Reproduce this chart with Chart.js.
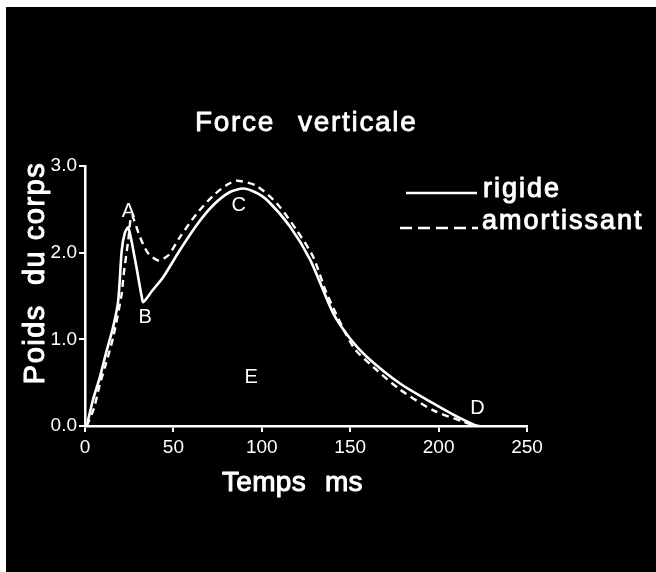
<!DOCTYPE html>
<html>
<head>
<meta charset="utf-8">
<script src="https://cdn.jsdelivr.net/npm/chart.js@4/dist/chart.umd.min.js"></script>
<style>
html,body{margin:0;padding:0;background:#fff;}
#wrap{position:absolute;left:0;top:0;width:656px;height:572px;}
</style>
</head>
<body>
<div id="wrap"><canvas id="c" width="656" height="572"></canvas></div>
<script>
// ---- data ----
const xTicks = [0, 50, 100, 150, 200, 250];
const yTicks = [0.0, 1.0, 2.0, 3.0];
const rigideT = [1, 4.5, 8.5, 12, 16.0, 18.8, 20.8, 22.6, 24.5, 28.3, 32.1, 33.0, 38, 44.3, 53.7, 63.2, 72.6, 82.0, 89.5, 96, 102.8, 116, 127.3, 140.4, 149.9, 159.3, 178.2, 197, 210.2, 220.6, 223];
const rigideF = [0, 0.30, 0.57, 0.85, 1.15, 1.45, 2.03, 2.23, 2.29, 1.92, 1.49, 1.43, 1.56, 1.72, 2.03, 2.32, 2.55, 2.70, 2.74, 2.70, 2.61, 2.30, 1.92, 1.30, 1.01, 0.80, 0.49, 0.26, 0.11, 0.01, 0];
const amortT = [1, 5, 8.5, 11.3, 16.0, 20.8, 21.7, 24.5, 26.4, 31.1, 35.8, 41.5, 47.1, 53.7, 63.2, 72.6, 80.1, 86, 97.1, 108.4, 119.7, 129.1, 136.7, 151.8, 163.1, 178.2, 197, 214, 220.6];
const amortF = [0, 0.2, 0.49, 0.68, 1.03, 1.53, 1.72, 2.15, 2.43, 2.18, 1.99, 1.91, 1.97, 2.18, 2.45, 2.66, 2.78, 2.83, 2.77, 2.57, 2.26, 1.95, 1.53, 0.91, 0.68, 0.42, 0.18, 0.05, 0.0];
const seriesNames = ['rigide', 'amortissant'];
const pointLabels = [
  {t: 'A', x: 24.5, y: 2.48},
  {t: 'B', x: 34, y: 1.25},
  {t: 'C', x: 87, y: 2.55},
  {t: 'D', x: 222, y: 0.2},
  {t: 'E', x: 94, y: 0.56}
];

const toXY = (ts, fs) => ts.map((t, i) => ({x: t, y: fs[i]}));
const FONT = '"Liberation Sans", Arial, Helvetica, sans-serif';

function boldText(ctx, s, x, y, w) {
  ctx.lineWidth = w;
  ctx.strokeText(s, x, y);
  ctx.fillText(s, x, y);
}

const textPlugin = {
  id: 'textPlugin',
  beforeDraw(chart) {
    const ctx = chart.ctx;
    ctx.save();
    ctx.fillStyle = '#fff';
    ctx.fillRect(0, 0, 656, 572);
    ctx.fillStyle = '#000';
    ctx.fillRect(6, 7, 650, 565);
    ctx.restore();
  },
  afterDraw(chart) {
    const ctx = chart.ctx;
    const xs = chart.scales.x, ys = chart.scales.y;
    ctx.save();
    ctx.fillStyle = '#fff';
    ctx.strokeStyle = '#fff';
    ctx.lineJoin = 'round';
    // title
    ctx.font = '28px ' + FONT;
    ctx.letterSpacing = '1.7px';
    ctx.textAlign = 'left';
    ctx.textBaseline = 'alphabetic';
    boldText(ctx, 'Force', 195, 131, 0.8);
    boldText(ctx, 'verticale', 298, 131, 0.8);
    // x title
    ctx.letterSpacing = '0.3px';
    boldText(ctx, 'Temps', 222, 491, 1);
    boldText(ctx, 'ms', 325, 491, 1);
    // y title
    ctx.save();
    ctx.translate(44, 273);
    ctx.rotate(-Math.PI / 2);
    ctx.textAlign = 'center';
    ctx.font = '29px ' + FONT;
    ctx.letterSpacing = '1.5px';
    boldText(ctx, 'Poids  du corps', 0, 0, 1);
    ctx.restore();
    // legend
    ctx.lineWidth = 2.5;
    ctx.setLineDash([]);
    ctx.beginPath(); ctx.moveTo(406, 193); ctx.lineTo(477, 193); ctx.stroke();
    ctx.setLineDash([12, 6]);
    ctx.beginPath(); ctx.moveTo(400, 228); ctx.lineTo(478, 228); ctx.stroke();
    ctx.setLineDash([]);
    ctx.font = '27px ' + FONT;
    ctx.letterSpacing = '2px';
    boldText(ctx, seriesNames[0], 483, 197, 1);
    boldText(ctx, seriesNames[1], 482, 229, 1);
    // point letters
    ctx.font = '20px ' + FONT;
    ctx.letterSpacing = '0px';
    ctx.textAlign = 'center';
    ctx.textBaseline = 'middle';
    pointLabels.forEach(p => ctx.fillText(p.t, xs.getPixelForValue(p.x), ys.getPixelForValue(p.y)));
    ctx.restore();
  }
};

new Chart(document.getElementById('c'), {
  type: 'line',
  data: {
    datasets: [
      {label: seriesNames[0], data: toXY(rigideT, rigideF), borderColor: '#fff', borderWidth: 2.6, pointRadius: 0, tension: 0.25, fill: false, clip: false},
      {label: seriesNames[1], data: toXY(amortT, amortF), borderColor: '#fff', borderWidth: 2.4, borderDash: [7, 5], pointRadius: 0, tension: 0.25, fill: false, clip: false}
    ]
  },
  options: {
    responsive: false,
    animation: false,
    events: [],
    layout: {padding: {left: 0, right: 129, top: 166, bottom: 0}},
    plugins: {legend: {display: false}, tooltip: {enabled: false}, title: {display: false}},
    scales: {
      x: {
        type: 'linear', min: 0, max: 250,
        afterBuildTicks: s => { s.ticks = xTicks.map(v => ({value: v})); },
        afterFit: s => { s.height = 146; },
        grid: {drawOnChartArea: false, color: '#fff', lineWidth: 2, tickLength: 6},
        border: {color: '#fff', width: 2.5},
        ticks: {color: '#fff', font: {family: FONT, size: 19}, padding: 4, maxRotation: 0}
      },
      y: {
        type: 'linear', min: 0, max: 3,
        afterBuildTicks: s => { s.ticks = yTicks.map(v => ({value: v})); },
        afterFit: s => { s.width = 85; },
        grid: {drawOnChartArea: false, color: '#fff', lineWidth: 2, tickLength: 6},
        border: {color: '#fff', width: 2.5},
        ticks: {color: '#fff', font: {family: FONT, size: 19}, padding: 2, callback: v => v.toFixed(1)}
      }
    }
  },
  plugins: [textPlugin]
});
</script>
</body>
</html>
